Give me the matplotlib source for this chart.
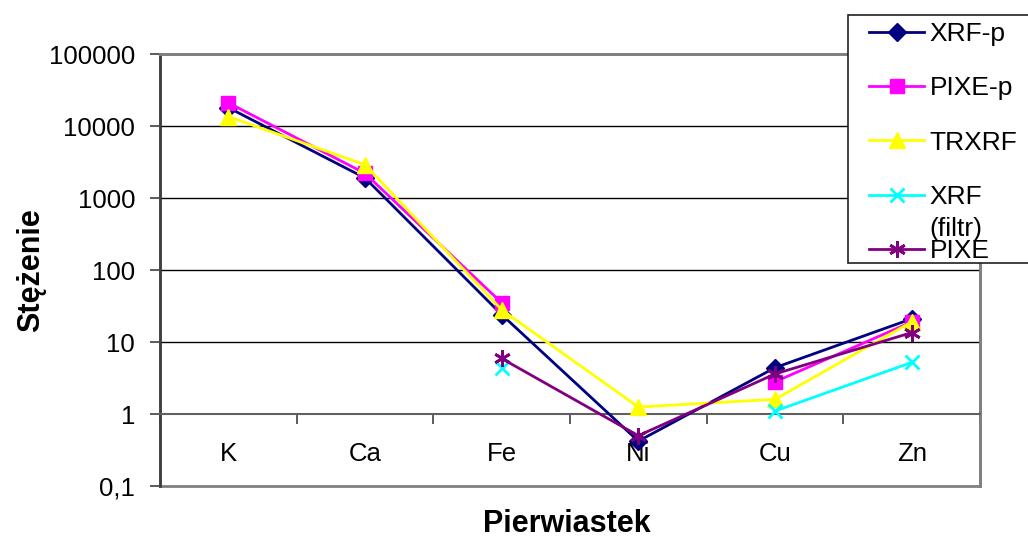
import numpy as np
import matplotlib
matplotlib.use("Agg")
import matplotlib.pyplot as plt
from matplotlib.patches import Rectangle
from matplotlib.ticker import FixedLocator, FixedFormatter, NullLocator

plt.rcParams['font.family'] = ['Liberation Sans', 'DejaVu Sans']

# Dane
pierwiastki = ['K', 'Ca', 'Fe', 'Ni', 'Cu', 'Zn']
xrf_p = [18000, 1900, 24, 0.42, 4.4, 21]
pixe_p = [21000, 2200, 35, np.nan, 2.8, 19]
trxrf = [13500, 2900, 28, 1.25, 1.6, 19]
xrf_filtr = [np.nan, np.nan, 4.4, np.nan, 1.1, 5.2]
pixe = [np.nan, np.nan, 5.9, 0.5, 3.6, 13.5]

y_ticks = [0.1, 1, 10, 100, 1000, 10000, 100000]
y_tick_labels = ['0,1', '1', '10', '100', '1000', '10000', '100000']

fig = plt.figure(figsize=(10.28, 5.37), dpi=100)
ax = fig.add_axes([160/1028, 1 - 486/537, 820/1028, 432/537])

x = np.arange(len(pierwiastki))

# Serie
ax.plot(x, xrf_p, color='#000080', lw=2, marker='D', ms=9, label='XRF-p', zorder=3)
ax.plot(x, pixe_p, color='#FF00FF', lw=2, marker='s', ms=10, label='PIXE-p', zorder=3)
ax.plot(x, trxrf, color='#FFFF00', lw=2, marker='^', ms=11, label='TRXRF', zorder=3)
ax.plot(x, xrf_filtr, color='#00FFFF', lw=2, marker='x', ms=10, mew=2, label='XRF', zorder=3)
ax.plot(x, pixe, color='#800080', lw=2, marker=(6, 2, 0), ms=12, mew=2, label='PIXE', zorder=3)

ax.set_yscale('log')
ax.set_ylim(0.1, 100000)
ax.set_xlim(-0.5, len(pierwiastki) - 0.5)

# Oś Y
ax.yaxis.set_major_locator(FixedLocator(y_ticks))
ax.yaxis.set_major_formatter(FixedFormatter(y_tick_labels))
ax.yaxis.set_minor_locator(NullLocator())
ax.tick_params(axis='y', direction='out', length=7, width=1.2, color='#404040',
               labelsize=18.5, pad=11)

# Linie siatki
for v in y_ticks[2:-1]:
    ax.axhline(v, color='black', lw=1, zorder=1)

# Oś kategorii przecina w 1
ax.spines['bottom'].set_position(('data', 1))
ax.spines['bottom'].set_color('#606060')
ax.spines['bottom'].set_linewidth(1.5)
ax.xaxis.set_major_locator(FixedLocator(x))
ax.xaxis.set_major_formatter(FixedFormatter(pierwiastki))
ax.xaxis.set_minor_locator(FixedLocator(np.arange(-0.5, len(pierwiastki), 1.0)))
ax.tick_params(axis='x', which='major', length=0, labelsize=18.5, pad=20)
ax.tick_params(axis='x', which='minor', direction='out', length=7, width=1.2, color='#404040')

ax.spines['left'].set_color('#404040')
ax.spines['left'].set_linewidth(2)
for s in ['top', 'right']:
    ax.spines[s].set_color('#808080')
    ax.spines[s].set_linewidth(2)
ax.add_patch(Rectangle((0, 0), 1, 1, transform=ax.transAxes, fill=False,
                       ec='#808080', lw=2, clip_on=False, zorder=0))

fig.text(31/1028, 1 - 270/537, 'Stężenie', fontsize=22, fontweight='bold',
         rotation=90, ha='center', va='center')
fig.text(567/1028, 1 - 524/537, 'Pierwiastek', fontsize=22, fontweight='bold',
         ha='center', va='center')

# Legenda (ramka rysowana osobno)
fig.patches.append(Rectangle((848/1028, 1 - 263/537), 185/1028, 248/537,
                             transform=fig.transFigure, facecolor='white',
                             edgecolor='#202020', lw=1.2, zorder=4))
leg = fig.legend(loc='upper left', bbox_to_anchor=(869/1028, 1 - 22/537),
                 fontsize=19, frameon=False,
                 handlelength=2.1, handletextpad=0.2, labelspacing=1.15,
                 borderpad=0.0, borderaxespad=0)
leg.set_zorder(5)
xrf_text = leg.get_texts()[3]
leg_filtr = fig.text(0, 0, '(filtr)', fontsize=19, zorder=6)
fig.canvas.draw()
bb = xrf_text.get_window_extent()
leg_filtr.set_position((bb.x0 / fig.bbox.width, (bb.y0 - 27) / fig.bbox.height))

fig.savefig('out.png', dpi=100)
